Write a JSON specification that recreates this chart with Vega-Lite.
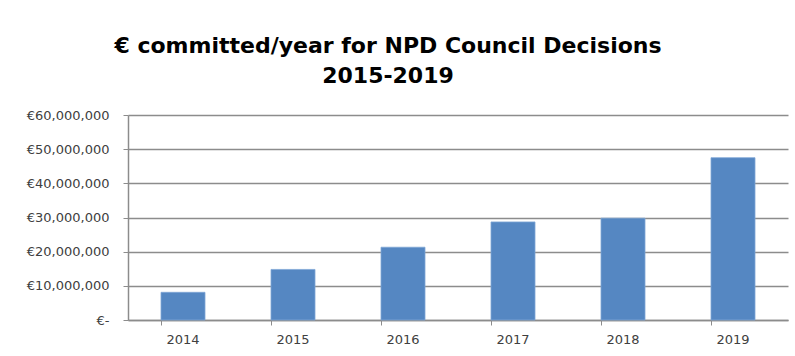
{
  "$schema": "https://vega.github.io/schema/vega-lite/v6.json",
  "width": 660,
  "height": 205,
  "autosize": {"type": "none"},
  "padding": {"left": 128, "top": 115, "right": 7, "bottom": 36},
  "background": "#ffffff",
  "title": {
    "text": ["€ committed/year for NPD Council Decisions", "2015-2019"],
    "font": "DejaVu Sans",
    "fontWeight": "bold",
    "fontSize": 22,
    "lineHeight": 30,
    "color": "#000000",
    "anchor": "middle",
    "frame": "group",
    "dx": -70,
    "offset": 21
  },
  "data": {
    "values": [
      {"year": "2014", "amount": 8100000},
      {"year": "2015", "amount": 14800000},
      {"year": "2016", "amount": 21300000},
      {"year": "2017", "amount": 28700000},
      {"year": "2018", "amount": 29800000},
      {"year": "2019", "amount": 47500000}
    ]
  },
  "mark": {"type": "bar", "color": "#5587c2", "stroke": "#7fa6d6", "strokeWidth": 0.8},
  "encoding": {
    "x": {
      "field": "year",
      "type": "ordinal",
      "title": null,
      "scale": {"paddingInner": 0.6, "paddingOuter": 0.3},
      "axis": {
        "labelAngle": 0,
        "labelFont": "DejaVu Sans",
        "labelFontSize": 13,
        "labelColor": "#404040",
        "labelPadding": 8,
        "bandPosition": 0,
        "tickColor": "#8c8c8c",
        "tickSize": 5,
        "domainColor": "#8c8c8c",
        "domainWidth": 1.5,
        "grid": false
      }
    },
    "y": {
      "field": "amount",
      "type": "quantitative",
      "title": null,
      "scale": {"domain": [0, 60000000], "nice": false},
      "axis": {
        "values": [0, 10000000, 20000000, 30000000, 40000000, 50000000, 60000000],
        "labelExpr": "datum.value == 0 ? '€-\u00a0\u00a0\u00a0\u00a0' : '€' + format(datum.value, ',')",
        "labelFont": "DejaVu Sans",
        "labelFontSize": 13,
        "labelColor": "#404040",
        "labelPadding": 14,
        "tickColor": "#8c8c8c",
        "tickSize": 5,
        "domainColor": "#8c8c8c",
        "domainWidth": 1.5,
        "gridColor": "#8c8c8c",
        "gridWidth": 1.5
      }
    }
  },
  "config": {"view": {"stroke": null}}
}
